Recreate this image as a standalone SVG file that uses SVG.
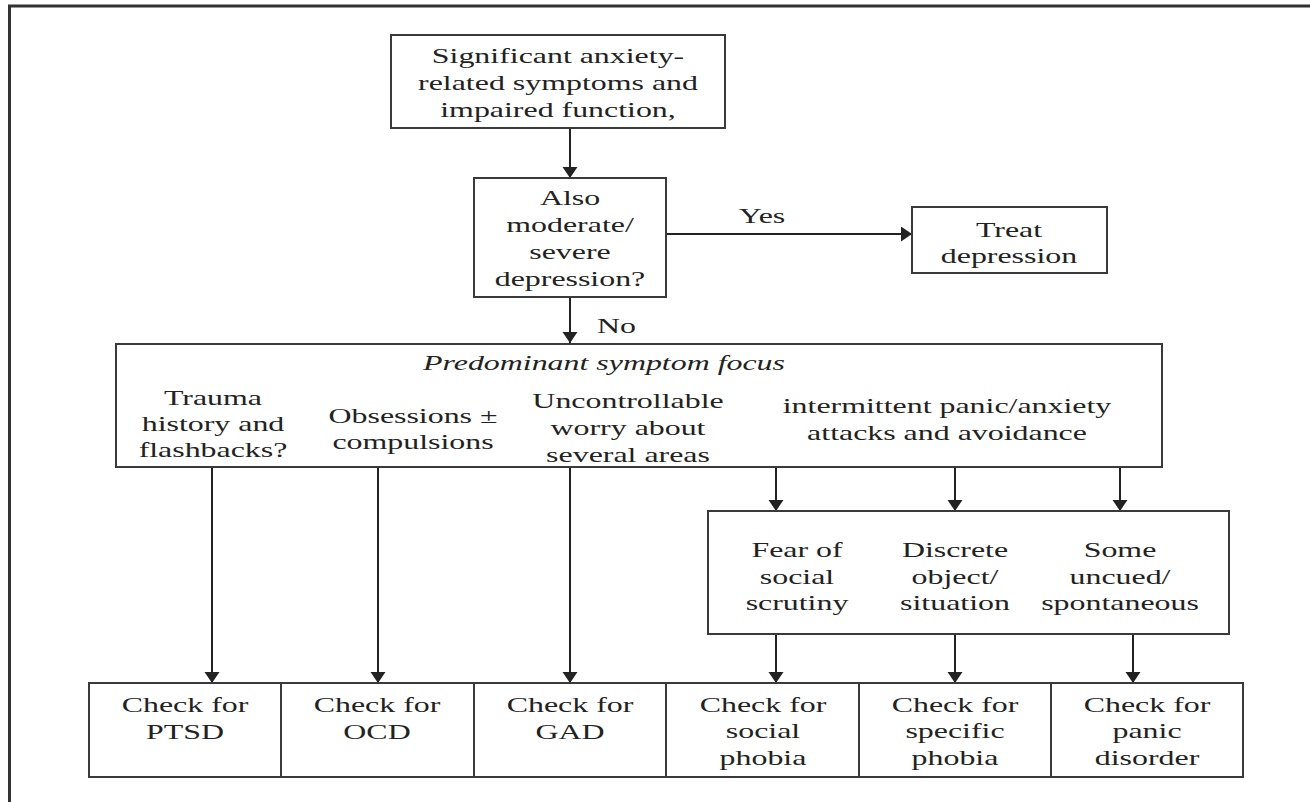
<svg xmlns="http://www.w3.org/2000/svg" width="1310" height="802" viewBox="0 0 1310 802">
<style>
.box{fill:#fff;stroke:#3a3a3a;stroke-width:2}
.t{font-family:"Liberation Serif","Times New Roman",serif;font-size:22px;fill:#222;text-anchor:middle}
.ts{text-anchor:start}
.it{font-style:italic}
.edge{stroke:#222;stroke-width:2;fill:none;marker-end:url(#ah)}
</style>
<defs>
<marker id="ah" markerUnits="userSpaceOnUse" markerWidth="12" markerHeight="16" refX="11" refY="7.5" orient="auto">
<path d="M0,0 L11,7.5 L0,15 z" fill="#222"/>
</marker>
</defs>
<rect width="1310" height="802" fill="#fff"/>
<g id="frame">
<path d="M9.5,802 L9.5,6 L1310,6" fill="none" stroke="#333" stroke-width="3"/>
</g>
<g id="connectors">
<line class="edge" x1="570" y1="128" x2="570" y2="178"/>
<line class="edge" x1="570" y1="297" x2="570" y2="343"/>
<line class="edge" x1="666" y1="234" x2="912" y2="234"/>
<line class="edge" x1="212" y1="467" x2="212" y2="683"/>
<line class="edge" x1="378" y1="467" x2="378" y2="683"/>
<line class="edge" x1="570" y1="467" x2="570" y2="683"/>
<line class="edge" x1="776" y1="467" x2="776" y2="511"/>
<line class="edge" x1="955" y1="467" x2="955" y2="511"/>
<line class="edge" x1="1120" y1="467" x2="1120" y2="511"/>
<line class="edge" x1="776" y1="634" x2="776" y2="683"/>
<line class="edge" x1="955" y1="634" x2="955" y2="683"/>
<line class="edge" x1="1133" y1="634" x2="1133" y2="683"/>
<text class="t" transform="translate(762 0) scale(1.45 1)" x="0" y="223">Yes</text>
<text class="t ts" transform="translate(597 0) scale(1.45 1)" x="0" y="333">No</text>
</g>
<g id="n-start">
<rect class="box" x="391" y="35" width="334" height="93"/>
<text class="t" transform="translate(558 0) scale(1.45 1)"><tspan x="0" y="63">Significant anxiety-</tspan><tspan x="0" y="90">related symptoms and</tspan><tspan x="0" y="117">impaired function,</tspan></text>
</g>
<g id="n-depression-q">
<rect class="box" x="474" y="178" width="192" height="119"/>
<text class="t" transform="translate(570 0) scale(1.45 1)"><tspan x="0" y="205">Also</tspan><tspan x="0" y="232">moderate/</tspan><tspan x="0" y="259">severe</tspan><tspan x="0" y="286">depression?</tspan></text>
</g>
<g id="n-treat">
<rect class="box" x="912" y="207" width="195" height="66"/>
<text class="t" transform="translate(1009 0) scale(1.45 1)"><tspan x="0" y="237">Treat</tspan><tspan x="0" y="263">depression</tspan></text>
</g>
<g id="n-focus">
<rect class="box" x="116" y="344" width="1046" height="123"/>
<text class="t it" transform="translate(604 0) scale(1.45 1)" x="0" y="370">Predominant symptom focus</text>
<text class="t" transform="translate(213 0) scale(1.45 1)"><tspan x="0" y="405">Trauma</tspan><tspan x="0" y="431">history and</tspan><tspan x="0" y="457">flashbacks?</tspan></text>
<text class="t" transform="translate(413 0) scale(1.45 1)"><tspan x="0" y="423">Obsessions ±</tspan><tspan x="0" y="449">compulsions</tspan></text>
<text class="t" transform="translate(628 0) scale(1.45 1)"><tspan x="0" y="408">Uncontrollable</tspan><tspan x="0" y="435">worry about</tspan><tspan x="0" y="462">several areas</tspan></text>
<text class="t" transform="translate(947 0) scale(1.45 1)"><tspan x="0" y="413">intermittent panic/anxiety</tspan><tspan x="0" y="440">attacks and avoidance</tspan></text>
</g>
<g id="n-panic-types">
<rect class="box" x="708" y="511" width="521" height="123"/>
<text class="t" transform="translate(797 0) scale(1.45 1)"><tspan x="0" y="557">Fear of</tspan><tspan x="0" y="584">social</tspan><tspan x="0" y="610">scrutiny</tspan></text>
<text class="t" transform="translate(955 0) scale(1.45 1)"><tspan x="0" y="557">Discrete</tspan><tspan x="0" y="584">object/</tspan><tspan x="0" y="610">situation</tspan></text>
<text class="t" transform="translate(1120 0) scale(1.45 1)"><tspan x="0" y="557">Some</tspan><tspan x="0" y="584">uncued/</tspan><tspan x="0" y="610">spontaneous</tspan></text>
</g>
<g id="n-ptsd">
<rect class="box" x="89" y="683" width="192" height="94"/>
<text class="t" transform="translate(185 0) scale(1.45 1)"><tspan x="0" y="712">Check for</tspan><tspan x="0" y="739">PTSD</tspan></text>
</g>
<g id="n-ocd">
<rect class="box" x="281" y="683" width="193" height="94"/>
<text class="t" transform="translate(377 0) scale(1.45 1)"><tspan x="0" y="712">Check for</tspan><tspan x="0" y="739">OCD</tspan></text>
</g>
<g id="n-gad">
<rect class="box" x="474" y="683" width="192" height="94"/>
<text class="t" transform="translate(570 0) scale(1.45 1)"><tspan x="0" y="712">Check for</tspan><tspan x="0" y="739">GAD</tspan></text>
</g>
<g id="n-social">
<rect class="box" x="666" y="683" width="193" height="94"/>
<text class="t" transform="translate(763 0) scale(1.45 1)"><tspan x="0" y="712">Check for</tspan><tspan x="0" y="738">social</tspan><tspan x="0" y="765">phobia</tspan></text>
</g>
<g id="n-specific">
<rect class="box" x="859" y="683" width="192" height="94"/>
<text class="t" transform="translate(955 0) scale(1.45 1)"><tspan x="0" y="712">Check for</tspan><tspan x="0" y="738">specific</tspan><tspan x="0" y="765">phobia</tspan></text>
</g>
<g id="n-panic">
<rect class="box" x="1051" y="683" width="192" height="94"/>
<text class="t" transform="translate(1147 0) scale(1.45 1)"><tspan x="0" y="712">Check for</tspan><tspan x="0" y="738">panic</tspan><tspan x="0" y="765">disorder</tspan></text>
</g>
</svg>
